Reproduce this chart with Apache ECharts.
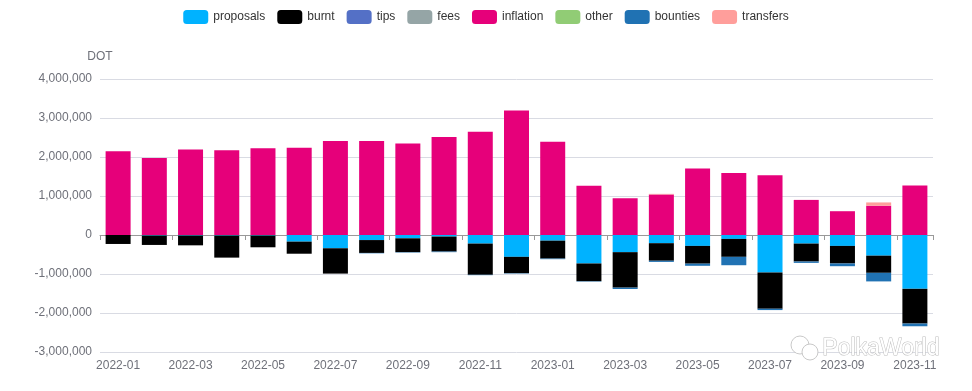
<!DOCTYPE html>
<html>
<head>
<meta charset="utf-8">
<script src="https://cdn.jsdelivr.net/npm/echarts@6/dist/echarts.min.js"></script>
<style>html,body{margin:0;padding:0;background:#fff;}#c{width:972px;height:391px;}</style>
</head>
<body>
<div id="c"></div>
<script>
var months = ['2022-01','2022-02','2022-03','2022-04','2022-05','2022-06','2022-07','2022-08','2022-09','2022-10','2022-11','2022-12','2023-01','2023-02','2023-03','2023-04','2023-05','2023-06','2023-07','2023-08','2023-09','2023-10','2023-11'];
var proposals = [0,-15000,-15000,-15000,-15000,-170000,-340000,-130000,-85000,-40000,-220000,-560000,-145000,-730000,-440000,-210000,-280000,-100000,-960000,-220000,-280000,-530000,-1380000];
var burnt = [-230000,-240000,-250000,-565000,-300000,-310000,-650000,-330000,-355000,-385000,-800000,-420000,-460000,-455000,-910000,-450000,-455000,-460000,-930000,-460000,-450000,-440000,-890000];
var tips = [0,0,0,0,0,0,0,0,0,0,0,0,0,0,0,0,0,0,0,0,0,0,0];
var fees = [0,0,0,0,0,0,0,0,0,0,0,0,0,0,0,0,0,0,0,0,0,0,0];
var inflation = [2150000,1975000,2190000,2170000,2225000,2240000,2410000,2410000,2345000,2515000,2650000,3190000,2390000,1260000,940000,1040000,1705000,1590000,1530000,900000,610000,750000,1270000];
var other = [0,0,0,0,0,0,0,0,0,0,0,0,0,0,0,0,0,0,0,0,0,0,0];
var bounties = [0,0,0,0,0,0,0,-10000,-10000,-15000,-10000,-10000,-15000,-10000,-35000,-30000,-55000,-215000,-35000,-35000,-70000,-220000,-70000];
var transfers = [0,0,0,0,0,0,0,0,0,0,0,0,0,0,0,15000,0,0,0,0,0,85000,0];
var yTicks = [-3000000,-2000000,-1000000,0,1000000,2000000,3000000,4000000];

var seriesNames = ['proposals','burnt','tips','fees','inflation','other','bounties','transfers'];
var seriesData = [proposals,burnt,tips,fees,inflation,other,bounties,transfers];
var colors = ['#00b2ff','#000000','#5470c6','#95a5a6','#e6007a','#91cc75','#2072b3','#ff9e9b'];

var chart = echarts.init(document.getElementById('c'), null, {renderer:'canvas'});
var font = 'Liberation Sans, Arial, sans-serif';
chart.setOption({
  animation: false,
  color: colors,
  textStyle: {fontFamily: font},
  legend: {top: 5, itemGap: 12, data: seriesNames, textStyle: {color: '#333', fontSize: 12, fontFamily: font}},
  grid: {left: 100, right: 39, top: 79, bottom: 39},
  xAxis: [{
    type: 'category', data: months,
    axisLine: {onZero: true, lineStyle: {color: '#999'}},
    axisTick: {show: true, interval: 1, lineStyle: {color: '#999'}},
    axisLabel: {show: false}
  },{
    type: 'category', data: months, position: 'bottom',
    axisLine: {show: false, onZero: false},
    axisTick: {show: false},
    axisLabel: {show: true, interval: 1, color: '#6e7079', fontSize: 12, margin: 8, fontFamily: font}
  }],
  yAxis: {
    type: 'value', min: yTicks[0], max: yTicks[yTicks.length-1], interval: 1000000,
    name: 'DOT', nameGap: 16, nameTextStyle: {color: '#6e7079', fontSize: 12, fontFamily: font},
    axisLabel: {color: '#6e7079', fontSize: 12, fontFamily: font, formatter: function(v){return v.toLocaleString('en-US');}},
    splitLine: {lineStyle: {color: '#d9dbe3'}}
  },
  series: seriesNames.map(function(n, i){
    return {name: n, type: 'bar', stack: 'total', xAxisIndex: 0, barWidth: 25, data: seriesData[i]};
  }),
  graphic: [
    {type: 'circle', shape: {cx: 800, cy: 345, r: 9}, style: {fill: '#fff', stroke: '#c8c8c8', lineWidth: 1}, z: 100},
    {type: 'circle', shape: {cx: 810, cy: 352, r: 8}, style: {fill: '#fff', stroke: '#c8c8c8', lineWidth: 1}, z: 100},
    {type: 'text', right: 32, top: 337, z: 100, style: {text: 'PolkaWorld', fontSize: 23, fontFamily: font, fill: '#fff', stroke: '#bdbdbd', lineWidth: 1}}
  ]
});
</script>
</body>
</html>
